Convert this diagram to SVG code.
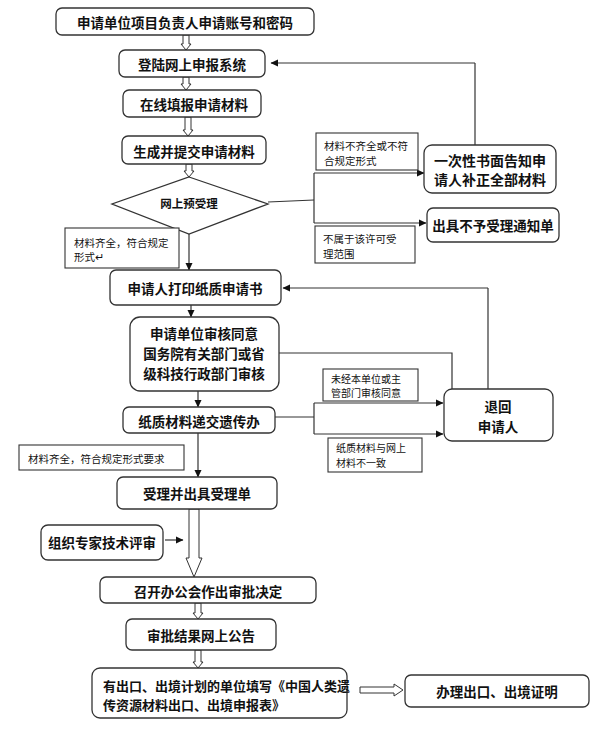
<svg xmlns="http://www.w3.org/2000/svg" width="604" height="729" viewBox="0 0 604 729">
<defs>
<marker id="ah" markerWidth="8" markerHeight="8" refX="7" refY="4" orient="auto" markerUnits="userSpaceOnUse">
<path d="M0,0.5 L7.5,4 L0,7.5 Z" fill="#111"/>
</marker>
</defs>
<style>
.box{fill:#fff;stroke:#333;stroke-width:1.3}
.lbl{fill:#fff;stroke:#333;stroke-width:1.1}
.t{font-family:"Noto Sans CJK SC","Noto Sans",sans-serif;font-weight:700;font-size:13.5px;fill:#111;text-anchor:middle;dominant-baseline:central}
.big{font-size:14px}
.s{font-family:"Noto Sans CJK SC","Noto Sans",sans-serif;font-weight:400;font-size:10.5px;fill:#111;dominant-baseline:central}
.sm{font-size:10px}
.ln{fill:none;stroke:#333;stroke-width:1.2}
.ar{fill:none;stroke:#333;stroke-width:1.2;marker-end:url(#ah)}
.hol{fill:#fff;stroke:#333;stroke-width:1}
</style>
<rect width="604" height="729" fill="#fff"/>

<g id="connectors">
<path class="hol" d="M183,35 V44 H181 L186,50 L191,44 H189 V35 Z"/>
<path class="hol" d="M183,77 V84 H181 L186,90 L191,84 H189 V77 Z"/>
<path class="hol" d="M185,117 V130 H183 L188,136 L193,130 H191 V117 Z"/>
<path class="hol" d="M186,164 V171 H184 L189,177 L194,171 H192 V164 Z"/>
<path class="hol" d="M189,509 V558 H186 L194,577 L202,558 H199 V509 Z"/>
<path class="hol" d="M195,603 V613 H193 L198,619 L203,613 H201 V603 Z"/>
<path class="hol" d="M195,650 V662 H193 L198,668 L203,662 H201 V650 Z"/>
<path class="hol" d="M360,687 H394 V684 L403,690 L394,696 V693 H360 Z"/>
<path class="ln" d="M475,145 V63"/>
<path class="ar" d="M475,63 H271"/>
<path class="ln" d="M268,202 L314,200"/>
<path class="ln" d="M314,173 V223"/>
<path class="ar" d="M314,173 H424"/>
<path class="ar" d="M314,223 H426"/>
<path class="ar" d="M189,234 V270"/>
<path class="ln" d="M488,389 V288"/>
<path class="ar" d="M488,288 H283"/>
<path class="ar" d="M191,305 V317"/>
<path class="ln" d="M279,353 H452 V389"/>
<path class="ar" d="M198,391 V407"/>
<path class="ln" d="M275,417 H314"/>
<path class="ln" d="M314,403 V434"/>
<path class="ar" d="M314,403 H443"/>
<path class="ar" d="M314,434 H443"/>
<path class="ar" d="M198,433 V477"/>
<path class="ar" d="M165,540 H183"/>
</g>

<g id="n1"><rect class="box" x="56" y="8" width="258" height="27" rx="6"/><text class="t" x="185" y="21.5">申请单位项目负责人申请账号和密码</text></g>
<g id="n2"><rect class="box" x="119" y="50" width="146" height="27" rx="6"/><text class="t" x="192" y="63.5">登陆网上申报系统</text></g>
<g id="n3"><rect class="box" x="123" y="90" width="138" height="27" rx="6"/><text class="t" x="194" y="104">在线填报申请材料</text></g>
<g id="n4"><rect class="box" x="122" y="136" width="144" height="28" rx="6"/><text class="t" x="194" y="150.5">生成并提交申请材料</text></g>
<g id="n5"><path class="box" d="M189,177 L268,204 L189,234 L112,204 Z"/><text class="t" x="189" y="203" style="font-size:11.5px">网上预受理</text></g>
<g id="l1"><rect class="lbl" x="316" y="133" width="102" height="37"/><text class="s" x="324" y="145">材料不齐全或不符</text><text class="s" x="324" y="160">合规定形式</text></g>
<g id="n6"><rect class="box" x="424" y="145" width="132" height="48" rx="8"/><text class="t big" x="490" y="160">一次性书面告知申</text><text class="t big" x="490" y="179">请人补正全部材料</text></g>
<g id="n7"><rect class="box" x="427" y="208" width="132" height="34" rx="6"/><text class="t" x="493" y="225">出具不予受理通知单</text></g>
<g id="l2"><rect class="lbl" x="315" y="226" width="100" height="37"/><text class="s" x="323" y="238">不属于该许可受</text><text class="s" x="323" y="253">理范围</text></g>
<g id="l3"><rect class="lbl" x="65" y="228" width="114" height="40"/><text class="s" x="74" y="242">材料齐全，符合规定</text><text class="s" x="74" y="256">形式↵</text></g>
<g id="n8"><rect class="box" x="110" y="270" width="171" height="35" rx="6"/><text class="t" x="195" y="287.5">申请人打印纸质申请书</text></g>
<g id="n9"><rect class="box" x="130" y="317" width="149" height="74" rx="10"/><text class="t" x="204" y="333">申请单位审核同意</text><text class="t" x="204" y="353">国务院有关部门或省</text><text class="t" x="204" y="373">级科技行政部门审核</text></g>
<g id="l4"><rect class="lbl" x="323" y="369" width="95" height="32"/><text class="s sm" x="331" y="378">未经本单位或主</text><text class="s sm" x="331" y="392.5">管部门审核同意</text></g>
<g id="n10"><rect class="box" x="444" y="389" width="109" height="52" rx="8"/><text class="t" x="498" y="405.5">退回</text><text class="t" x="498" y="426">申请人</text></g>
<g id="n11"><rect class="box" x="123" y="407" width="152" height="26" rx="6"/><text class="t" x="199" y="420.5">纸质材料递交遗传办</text></g>
<g id="l5"><rect class="lbl" x="328" y="438" width="94" height="34"/><text class="s sm" x="336" y="447.5">纸质材料与网上</text><text class="s sm" x="336" y="462">材料不一致</text></g>
<g id="l6"><rect class="lbl" x="19" y="445" width="165" height="25"/><text class="s" x="28" y="458">材料齐全，符合规定形式要求</text></g>
<g id="n12"><rect class="box" x="117" y="477" width="160" height="32" rx="6"/><text class="t" x="197" y="493">受理并出具受理单</text></g>
<g id="n13"><rect class="box" x="41" y="525" width="122" height="35" rx="7"/><text class="t" x="102" y="542">组织专家技术评审</text></g>
<g id="n14"><rect class="box" x="100" y="577" width="216" height="26" rx="6"/><text class="t" x="208" y="590.5">召开办公会作出审批决定</text></g>
<g id="n15"><rect class="box" x="126" y="619" width="150" height="31" rx="6"/><text class="t" x="201" y="634.5">审批结果网上公告</text></g>
<g id="n16"><rect class="box" x="92" y="668" width="255" height="50" rx="8"/><text class="t" x="103" y="685" style="text-anchor:start;font-size:13px">有出口、出境计划的单位填写《中国人类遗</text><text class="t" x="103" y="704" style="text-anchor:start;font-size:13px">传资源材料出口、出境申报表》</text></g>
<g id="n17"><rect class="box" x="405" y="675" width="184" height="32" rx="6"/><text class="t" x="497" y="691">办理出口、出境证明</text></g>
</svg>
